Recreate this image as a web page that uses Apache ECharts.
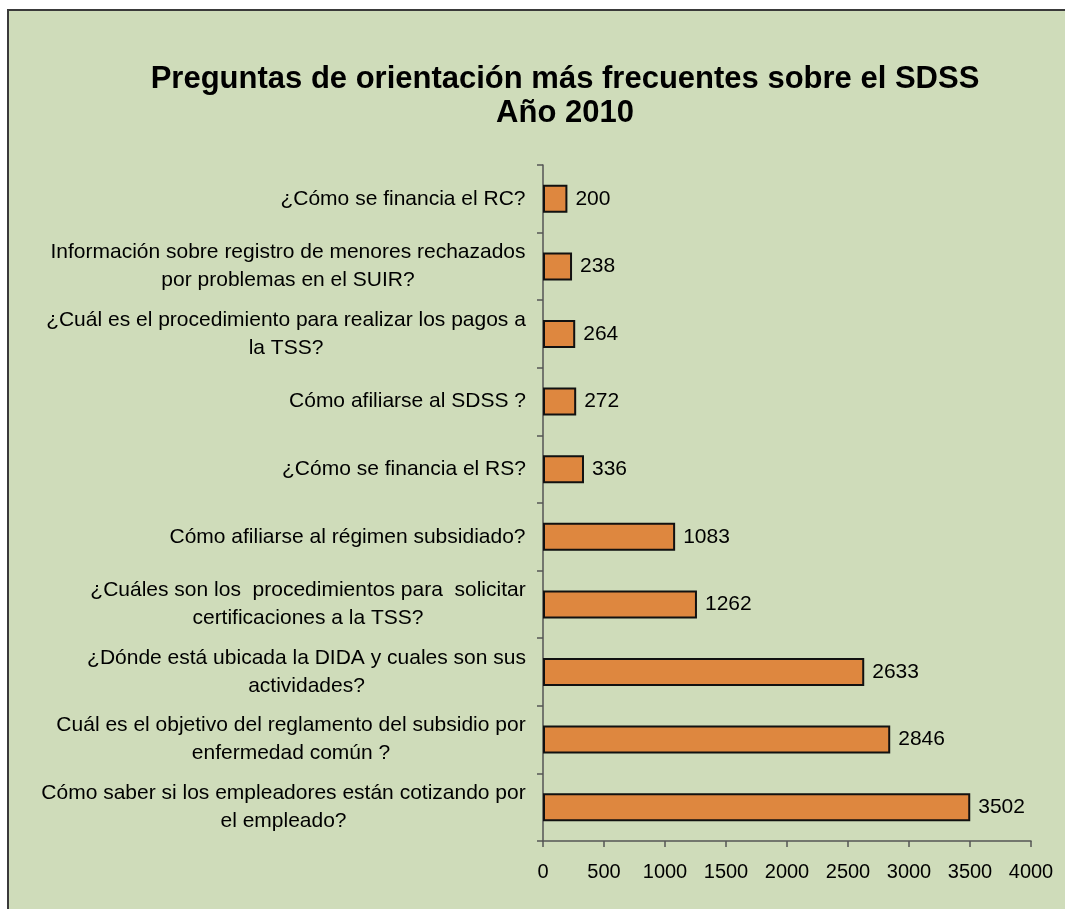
<!DOCTYPE html>
<html>
<head>
<meta charset="utf-8">
<script src="https://cdn.jsdelivr.net/npm/echarts@6/dist/echarts.min.js"></script>
<style>
  html, body { margin: 0; padding: 0; background: #ffffff; }
  #frame {
    position: absolute; left: 7px; top: 9px; right: 0; bottom: 0;
    background: #cfdcba; border-left: 2px solid #3a3a3a; border-top: 2px solid #3a3a3a;
  }
  #chart { position: absolute; left: 0; top: 0; width: 1065px; height: 909px; }
</style>
</head>
<body>
<div id="frame"></div>
<div id="chart"></div>
<script>
// bottom to top, as the category axis draws them
const questions = [
    ['Cómo saber si los empleadores están cotizando por', 'el empleado?'],
    ['Cuál es el objetivo del reglamento del subsidio por', 'enfermedad común ?'],
    ['¿Dónde está ubicada la DIDA y cuales son sus', 'actividades?'],
    ['¿Cuáles son los  procedimientos para  solicitar', 'certificaciones a la TSS?'],
    ['Cómo afiliarse al régimen subsidiado?'],
    ['¿Cómo se financia el RS?'],
    ['Cómo afiliarse al SDSS ?'],
    ['¿Cuál es el procedimiento para realizar los pagos a', 'la TSS?'],
    ['Información sobre registro de menores rechazados', 'por problemas en el SUIR?'],
    ['¿Cómo se financia el RC?']
];
const counts = [3502, 2846, 2633, 1262, 1083, 336, 272, 264, 238, 200];
const xTicks = [0, 500, 1000, 1500, 2000, 2500, 3000, 3500, 4000];

const labelSize = 21;
const measure = document.createElement('canvas').getContext('2d');
measure.font = labelSize + 'px "Liberation Sans", Arial, sans-serif';

// every label gets its own rich style so the lines are centred inside it
const rich = {};
const categories = questions.map(function (lines, i) {
    const w = Math.max.apply(null, lines.map(function (t) { return measure.measureText(t).width; }));
    rich['q' + i] = { width: Math.ceil(w) + 2, align: 'center', lineHeight: 28, fontSize: labelSize };
    return lines.map(function (t) { return '{q' + i + '|' + t + '}'; }).join('\n');
});

const chart = echarts.init(document.getElementById('chart'));
chart.setOption({
    backgroundColor: 'transparent',
    textStyle: { fontFamily: '"Liberation Sans", Arial, sans-serif', color: '#000' },
    title: {
        text: 'Preguntas de orientación más frecuentes sobre el SDSS\nAño 2010',
        left: 560,
        top: 57,
        textAlign: 'center',
        textStyle: { fontSize: 31, fontWeight: 'bold', color: '#000', lineHeight: 34 }
    },
    grid: { left: 543, right: 34, top: 165, bottom: 68, containLabel: false },
    xAxis: {
        type: 'value',
        min: 0,
        max: 4000,
        interval: 500,
        axisLine: { show: true, lineStyle: { color: '#555', width: 1.5 } },
        axisTick: { show: true, length: 6, lineStyle: { color: '#555', width: 1.5 } },
        axisLabel: { fontSize: 20, color: '#000', margin: 21,
            formatter: function (v) { return xTicks.indexOf(v) >= 0 ? String(v) : ''; } },
        splitLine: { show: false }
    },
    yAxis: {
        type: 'category',
        data: categories,
        axisLine: { show: true, lineStyle: { color: '#555', width: 1.5 } },
        axisTick: { show: true, length: 6, lineStyle: { color: '#555', width: 1.5 } },
        axisLabel: { margin: 16, color: '#000', fontSize: labelSize, align: 'right', rich: rich }
    },
    series: [{
        type: 'bar',
        data: counts,
        barWidth: 28,
        itemStyle: { color: '#de873f', borderColor: '#111', borderWidth: 2 },
        label: { show: true, position: 'right', distance: 8, fontSize: 21, color: '#000' },
        animation: false
    }]
});
</script>
</body>
</html>
